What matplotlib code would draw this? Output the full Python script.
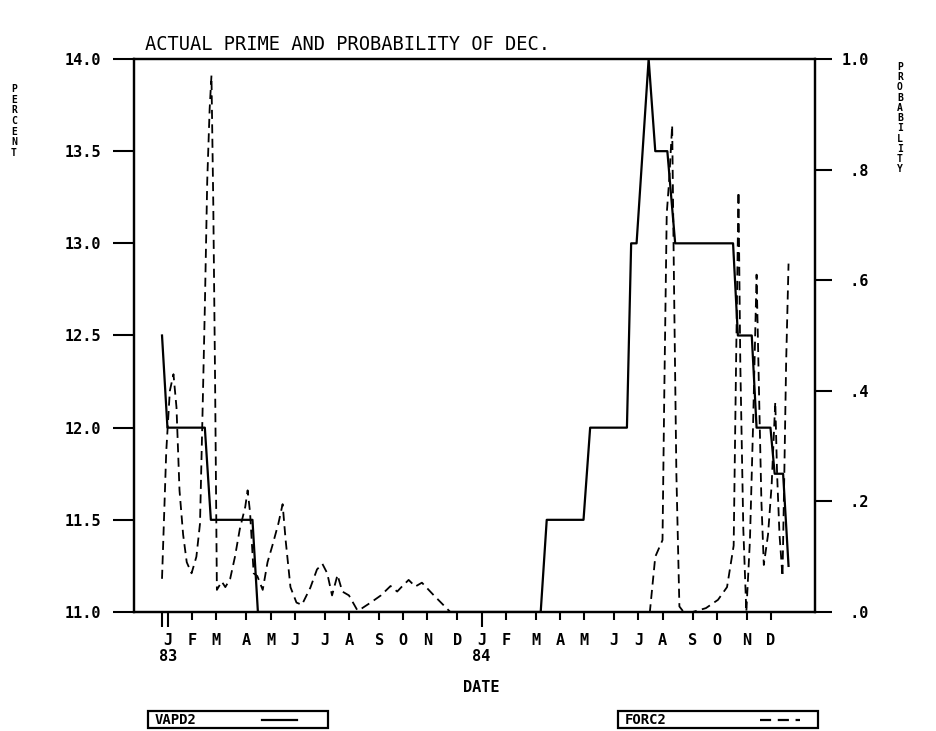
import matplotlib
matplotlib.use("Agg")
import matplotlib.pyplot as plt
import matplotlib.transforms as mtransforms
from matplotlib.lines import Line2D
from matplotlib.patches import Rectangle

# x axis is in weeks, week 0 = first week of January 1983
month_weeks = [0, 4, 8, 13, 17, 21, 26, 30, 35, 39, 43, 48,
               52, 56, 61, 65, 69, 74, 78, 82, 87, 91, 96, 100]
month_labels = list("JFMAMJJASONDJFMAMJJASOND")
year_weeks = [0, 52]
year_labels = ["83", "84"]

left_ticks = [11.0, 11.5, 12.0, 12.5, 13.0, 13.5, 14.0]
left_labels = ["11.0", "11.5", "12.0", "12.5", "13.0", "13.5", "14.0"]
right_ticks = [0.0, 0.2, 0.4, 0.6, 0.8, 1.0]
right_labels = [" .0", " .2", " .4", " .6", " .8", "1.0"]

# actual prime rate (VAPD2), values below 11.0 sit on the axis floor
prime_weeks = [-1, -0.1, 6.1, 7.1, 14.0, 14.9, 61.8, 62.8, 68.9, 70.0,
               76.1, 76.8, 77.7, 79.7, 80.8, 82.8, 84.1, 93.7, 94.5,
               96.8, 97.6, 99.9, 100.6, 102.0, 102.9]
prime_rate = [12.5, 12.0, 12.0, 11.5, 11.5, 11.0, 11.0, 11.5, 11.5, 12.0,
              12.0, 13.0, 13.0, 14.0, 13.5, 13.5, 13.0, 13.0, 12.5,
              12.5, 12.0, 12.0, 11.75, 11.75, 11.25]

# forecast probability of a decrease (FORC2)
prob_weeks = [-1.0, -0.3, 0.3, 0.9, 1.4, 1.9, 2.5, 3.1, 3.9, 4.7,
              5.3, 5.7, 6.1, 6.5, 6.9, 7.2, 7.5, 7.8, 8.1, 8.9,
              9.5, 10.3, 11.1, 11.9, 12.8, 13.2, 13.6, 14.2, 14.8, 15.7,
              16.5, 17.3, 18.3, 19.0, 19.5, 20.3, 21.3, 22.2, 23.6, 24.7,
              25.6, 26.4, 27.2, 28.1, 28.9, 30.0, 31.4, 32.2, 33.6, 35.3,
              36.9, 38.0, 38.7, 39.9, 41.0, 42.1, 44.0, 46.8, 79.9, 80.8,
              82.0, 82.3, 82.7, 83.1, 83.6, 83.9, 84.3, 84.8, 85.5, 87.0,
              89.2, 91.2, 92.7, 93.8, 94.2, 94.6, 94.9, 95.4, 95.9, 96.5,
              97.0, 97.6, 98.0, 98.4, 98.8, 99.5, 100.1, 100.7, 101.0, 101.4,
              101.9, 102.2, 102.5, 102.9]
prob_dec = [0.06, 0.29, 0.40, 0.43, 0.37, 0.22, 0.14, 0.09, 0.07, 0.10,
            0.16, 0.35, 0.55, 0.78, 0.91, 0.97, 0.74, 0.42, 0.04, 0.055,
            0.045, 0.06, 0.10, 0.15, 0.19, 0.22, 0.18, 0.07, 0.065, 0.04,
            0.09, 0.12, 0.16, 0.195, 0.13, 0.045, 0.017, 0.013, 0.044, 0.077,
            0.087, 0.07, 0.03, 0.067, 0.037, 0.03, 0.003, 0.007, 0.017, 0.03,
            0.047, 0.037, 0.045, 0.058, 0.046, 0.053, 0.031, 0.0, 0.0, 0.10,
            0.13, 0.40, 0.72, 0.78, 0.88, 0.60, 0.25, 0.01, 0.0, 0.0,
            0.007, 0.022, 0.045, 0.12, 0.45, 0.76, 0.45, 0.15, 0.0, 0.13,
            0.33, 0.61, 0.40, 0.20, 0.085, 0.14, 0.23, 0.38, 0.25, 0.14,
            0.064, 0.25, 0.45, 0.63]

DASH = (0, (5, 3))

plt.rcParams["font.family"] = ["DejaVu Sans Mono"]

fig = plt.figure(figsize=(9.36, 7.31), dpi=100)
ax = fig.add_axes([0.1432, 0.1628, 0.7276, 0.7565])
ax2 = ax.twinx()

ax.plot(prime_weeks, prime_rate, color="black", lw=1.6)
ax2.plot(prob_weeks, prob_dec, color="black", lw=1.3, linestyle=DASH)

ax.set_xlim(-5.64, 107.3)
ax.set_ylim(11.0, 14.0)
ax2.set_ylim(0.0, 1.0)

for a in (ax, ax2):
    for s in a.spines.values():
        s.set_linewidth(1.6)

ax.set_yticks(left_ticks, left_labels)
ax.tick_params(axis="y", direction="out", length=15, width=1.5, pad=9,
               labelsize=11)
for t in ax.get_yticklabels():
    t.set_fontweight("bold")

ax2.set_yticks(right_ticks, right_labels)
ax2.tick_params(axis="y", direction="out", length=12, width=1.5, pad=7,
                labelsize=11)
for t in ax2.get_yticklabels():
    t.set_fontweight("bold")
    t.set_horizontalalignment("left")

# month ticks; the year starts get the longer minor ticks
major = [w for w in month_weeks if w not in (0, 52)]
ax.set_xticks(major, [""] * len(major))
ax.set_xticks([-1, 0, 52], ["", "", ""], minor=True)
ax.tick_params(axis="x", which="major", direction="out", length=6, width=1.5)
ax.tick_params(axis="x", which="minor", direction="out", length=11, width=1.5)

xtrans = mtransforms.blended_transform_factory(ax.transData, ax.transAxes)
for w, lab in zip(month_weeks, month_labels):
    ax.text(w, -0.051, lab, transform=xtrans, ha="center", va="center",
            fontsize=11, fontweight="bold")
for w, lab in zip(year_weeks, year_labels):
    ax.text(w, -0.081, lab, transform=xtrans, ha="center", va="center",
            fontsize=11, fontweight="bold")
ax.text(52, -0.137, "DATE", transform=xtrans, ha="center", va="center",
        fontsize=11, fontweight="bold")

fig.text(145 / 936, 1 - 45 / 731, "ACTUAL PRIME AND PROBABILITY OF DEC.",
         ha="left", va="center", fontsize=13.5)

fig.text(14 / 936, 1 - 84 / 731, "\n".join("PERCENT"), ha="center", va="top",
         fontsize=7, fontweight="bold", linespacing=1.08)
fig.text(900 / 936, 1 - 62 / 731, "\n".join("PROBABILITY"), ha="center",
         va="top", fontsize=7, fontweight="bold", linespacing=1.03)


def legend_box(x0, x1, name, seg0, seg1, style):
    y0, y1 = 711, 728
    fig.add_artist(Rectangle((x0 / 936, 1 - y1 / 731), (x1 - x0) / 936,
                             (y1 - y0) / 731, transform=fig.transFigure,
                             fill=False, lw=1.6, color="black"))
    ym = 1 - (y0 + y1) / 2 / 731
    fig.text((x0 + 7) / 936, ym, name, ha="left", va="center", fontsize=10,
             fontweight="bold")
    fig.add_artist(Line2D([seg0 / 936, seg1 / 936], [ym, ym],
                          transform=fig.transFigure, color="black", lw=1.6,
                          linestyle=style))


legend_box(148, 328, "VAPD2", 262, 297, "-")
legend_box(618, 818, "FORC2", 760, 800, DASH)

fig.savefig("out.png", dpi=100)
